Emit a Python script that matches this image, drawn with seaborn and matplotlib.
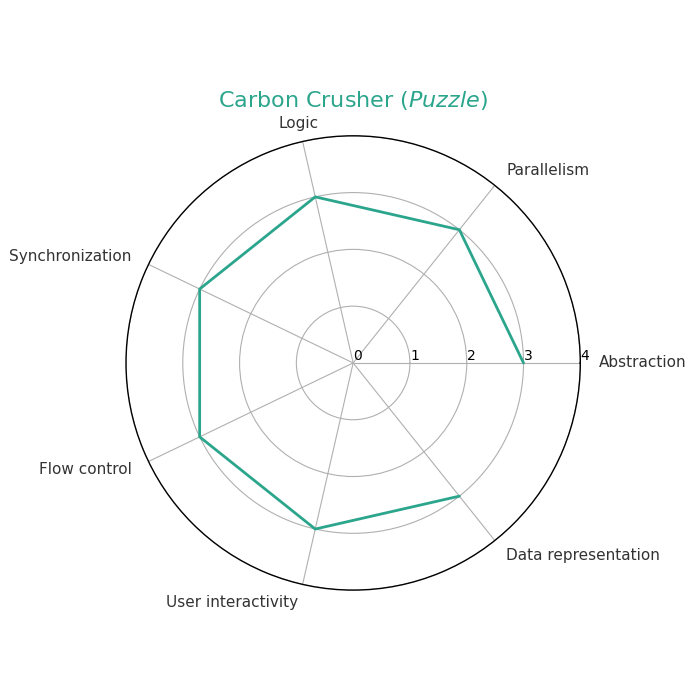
import numpy as np
import matplotlib
matplotlib.use("Agg")
import matplotlib.pyplot as plt
import seaborn as sns

categories = ["Abstraction", "Parallelism", "Logic", "Synchronization",
              "Flow control", "User interactivity", "Data representation"]
values = [3, 3, 3, 3, 3, 3, 3]
r_ticks = [0, 1, 2, 3, 4]

sns.set_style("white")
plt.rcParams['font.family'] = ['DejaVu Sans']

color = "#2ca58d"
n = len(categories)
angles = np.linspace(0, 2 * np.pi, n, endpoint=False)

fig = plt.figure(figsize=(7, 7), dpi=100)
ax = fig.add_axes([0.18, 0.157, 0.649, 0.649], projection="polar")

a_closed = np.concatenate([angles, angles[:1]])
v_closed = values + values[:1]
sns.lineplot(x=a_closed, y=v_closed, ax=ax, color=color, linewidth=2, sort=False)

ax.set_ylim(0, 4)
ax.set_yticks(r_ticks)
ax.set_yticklabels([str(t) for t in r_ticks], fontsize=10, color="black")
ax.set_rlabel_position(0)
ax.set_xticks(angles)
ax.set_xticklabels([])
ax.grid(True, color="#b0b0b0", linewidth=0.8)
ax.spines["polar"].set_color("black")
ax.spines["polar"].set_linewidth(1)
ax.set_xlabel("")
ax.set_ylabel("")

for ang, lab in zip(angles, categories):
    c, s = np.cos(ang), np.sin(ang)
    if s > 0.9:
        ha = "center"
    elif c >= 0:
        ha = "left"
    else:
        ha = "right"
    ax.text(ang, 4.33, lab, ha=ha, va="center", fontsize=11, color="#333333",
            clip_on=False)

fig.text(0.504, 0.857, r"Carbon Crusher ($\it{Puzzle}$)", ha="center", va="center",
         fontsize=16, color=color)

fig.savefig("out.png", dpi=100)
